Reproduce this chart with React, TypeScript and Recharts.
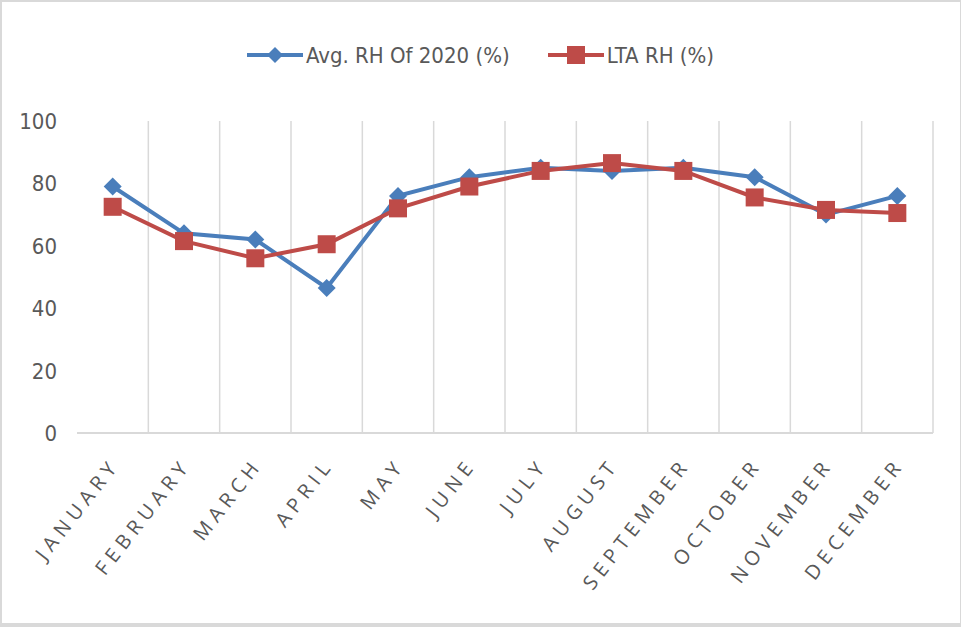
import { CartesianGrid, Legend, Line, LineChart, XAxis, YAxis } from "recharts";

const months = [
	"JANUARY",
	"FEBRUARY",
	"MARCH",
	"APRIL",
	"MAY",
	"JUNE",
	"JULY",
	"AUGUST",
	"SEPTEMBER",
	"OCTOBER",
	"NOVEMBER",
	"DECEMBER",
];
const avgRh2020 = [79, 64, 62, 46.5, 76, 82, 85, 84, 85, 82, 70, 76];
const ltaRh = [72.5, 61.5, 56, 60.5, 72, 79, 84, 86.5, 84, 75.5, 71.5, 70.5];
const yTicks = [0, 20, 40, 60, 80, 100];

const BLUE = "#4a7ebb";
const RED = "#be4b48";
const GRID = "#d9d9d9";
const TEXT = "#595959";
const FONT = "'DejaVu Sans Condensed', 'Liberation Sans', sans-serif";

const dados = months.map((m, i) => ({
	mes: m,
	avg: avgRh2020[i],
	lta: ltaRh[i],
}));

const Diamond = (props: any) => {
	const { cx, cy } = props;
	if (cx == null || cy == null) return null;
	const r = 9;
	return (
		<path
			d={`M${cx},${cy - r}L${cx + r},${cy}L${cx},${cy + r}L${cx - r},${cy}Z`}
			fill={BLUE}
		/>
	);
};

const Square = (props: any) => {
	const { cx, cy } = props;
	if (cx == null || cy == null) return null;
	const s = 9;
	return <rect x={cx - s} y={cy - s} width={s * 2} height={s * 2} fill={RED} />;
};

const MonthTick = (props: any) => {
	const { x, y, payload } = props;
	const tx = x + 8;
	const ty = y + 24;
	return (
		<text
			x={tx}
			y={ty}
			transform={`rotate(-52 ${tx} ${ty})`}
			textAnchor='end'
			fill={TEXT}
			fontSize={20}
			letterSpacing={5.5}
			fontFamily="'Open Sans', sans-serif"
		>
			{payload.value}
		</text>
	);
};

const ValueTick = (props: any) => {
	const { y, payload } = props;
	return (
		<text
			x={57}
			y={y + 8}
			textAnchor='end'
			fill={TEXT}
			fontSize={22}
			fontFamily={FONT}
		>
			{payload.value}
		</text>
	);
};

const LegendIcon = ({ color, kind }: { color: string; kind: string }) => (
	<svg width={56} height={20} style={{ marginRight: 3 }}>
		<line x1={0} y1={10} x2={56} y2={10} stroke={color} strokeWidth={4} />
		{kind === "diamond" ? (
			<path d='M28,2L36,10L28,18L20,10Z' fill={color} />
		) : (
			<rect x={19} y={1} width={18} height={18} fill={color} />
		)}
	</svg>
);

const LegendaCustom = () => (
	<div
		style={{
			display: "flex",
			justifyContent: "center",
			alignItems: "center",
			height: 30,
			fontFamily: FONT,
			fontSize: 22,
			color: TEXT,
		}}
	>
		<div style={{ display: "flex", alignItems: "center", marginRight: 38 }}>
			<LegendIcon color={BLUE} kind='diamond' />
			<span>Avg. RH Of 2020 (%)</span>
		</div>
		<div style={{ display: "flex", alignItems: "center" }}>
			<LegendIcon color={RED} kind='square' />
			<span>LTA RH (%)</span>
		</div>
	</div>
);

export default function App() {
	return (
		<div style={{ position: "absolute", left: 0, top: 0, width: 961, height: 627, background: "#fff" }}>
			<LineChart
				width={961}
				height={627}
				data={dados}
				margin={{ top: 91, right: 28, bottom: 0, left: 0 }}
			>
				<CartesianGrid
					horizontal={false}
					stroke={GRID}
					strokeWidth={1.5}
					verticalCoordinatesGenerator={({ offset }: any) =>
						months.map((_, i) => offset.left + ((i + 1) * offset.width) / months.length)
					}
				/>
				<XAxis
					dataKey='mes'
					scale='band'
					interval={0}
					height={194}
					tick={<MonthTick />}
					tickLine={false}
					axisLine={{ stroke: GRID, strokeWidth: 2 }}
				/>
				<YAxis
					domain={[0, 100]}
					ticks={yTicks}
					width={77}
					tick={<ValueTick />}
					tickLine={false}
					axisLine={false}
				/>
				<Legend
					verticalAlign='top'
					content={<LegendaCustom />}
					wrapperStyle={{ top: 40, left: 0, width: 961 }}
				/>
				<Line
					dataKey='avg'
					name='Avg. RH Of 2020 (%)'
					stroke={BLUE}
					strokeWidth={4}
					dot={<Diamond />}
					activeDot={false}
					isAnimationActive={false}
				/>
				<Line
					dataKey='lta'
					name='LTA RH (%)'
					stroke={RED}
					strokeWidth={4}
					dot={<Square />}
					activeDot={false}
					isAnimationActive={false}
				/>
			</LineChart>
			<div
				style={{
					position: "absolute",
					left: 0,
					top: 0,
					width: 961,
					height: 627,
					boxSizing: "border-box",
					borderStyle: "solid",
					borderColor: GRID,
					borderWidth: "2px 1px 4px 2px",
					pointerEvents: "none",
				}}
			/>
		</div>
	);
}
